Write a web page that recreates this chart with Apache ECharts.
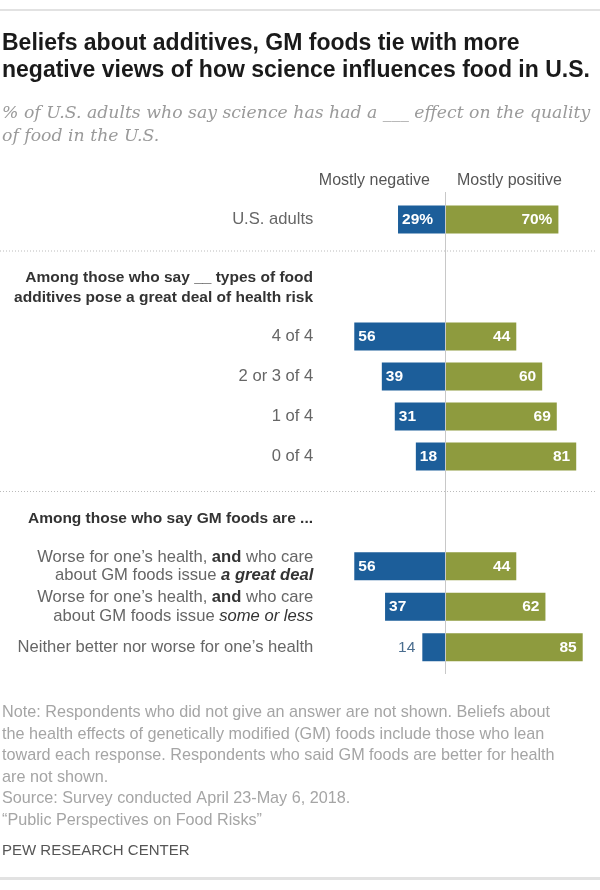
<!DOCTYPE html>
<html lang="en">
  <head>
    <meta charset="UTF-8" />
    <title>Science and food quality</title>
    <style>
      html, body { margin: 0; padding: 0; background: #fff; }
      #main { width: 600px; height: 890px; }
    </style>
  </head>
  <body>
    <div id="main"></div>
    <script src="https://cdn.jsdelivr.net/npm/echarts@6/dist/echarts.min.js"></script>
    <script>
      const myChart = echarts.init(document.getElementById('main'))

      // rows and values
      var usCats = ['U.S. adults']
      var usNeg = [29]
      var usPos = [70]

      var addCats = ['4 of 4', '2 or 3 of 4', '1 of 4', '0 of 4']
      var addNeg = [56, 39, 31, 18]
      var addPos = [44, 60, 69, 81]

      var gmCats = [
        '{n|Worse for one\u2019s health, }{b|and}{n| who care}\n{n|about GM foods issue }{bi|a great deal}',
        '{n|Worse for one\u2019s health, }{b|and}{n| who care}\n{n|about GM foods issue }{i|some or less}',
        '{n|Neither better nor worse for one\u2019s health}'
      ]
      var gmNeg = [56, 37, 14]
      var gmPos = [44, 62, 85]

      var groupHeads = [
        'Among those who say __ types of food\nadditives pose a great deal of health risk',
        'Among those who say GM foods are ...'
      ]
      var colHeads = ['Mostly negative', 'Mostly positive']

      var BLUE = '#1c5e9a'
      var GREEN = '#8e9b3e'
      var FONT = '"Liberation Sans", Arial, sans-serif'
      var LBL = 16.6

      var X_MIN = -60, X_MAX = 95
      var gridLeft = 347.8, gridRight = 1.1

      var grids = [
        { top: 199.5, height: 40 },
        { top: 316.5, height: 160 },
        { top: 546, height: 121.5 },
        { top: 192, height: 482 } // background, zero line
      ]

      function xAx(i) {
        return {
          type: 'value', gridIndex: i, min: X_MIN, max: X_MAX,
          show: false
        }
      }
      function yAx(i, cats) {
        return {
          type: 'category', gridIndex: i, data: cats, inverse: true,
          axisLine: { show: false }, axisTick: { show: false },
          axisLabel: {
            margin: 34.5, color: '#666', fontFamily: FONT, fontSize: LBL,
            align: 'right',
            rich: {
              n: { color: '#666', fontFamily: FONT, fontSize: LBL, lineHeight: 18.5 },
              b: { color: '#333', fontFamily: FONT, fontSize: LBL, fontWeight: 'bold', lineHeight: 18.5 },
              bi: { color: '#333', fontFamily: FONT, fontSize: LBL, fontWeight: 'bold', fontStyle: 'italic', lineHeight: 18.5 },
              i: { color: '#333', fontFamily: FONT, fontSize: LBL, fontStyle: 'italic', lineHeight: 18.5 }
            }
          }
        }
      }

      function negSeries(i, vals, pct) {
        return {
          type: 'bar', xAxisIndex: i, yAxisIndex: i, barWidth: 28, barGap: '-100%',
          silent: true,
          data: vals.map(function (v) {
            var item = { value: -v }
            if (v < 15) {
              item.label = {
                position: 'left', distance: 7, color: '#4a6d8f', fontWeight: 'normal'
              }
            }
            return item
          }),
          itemStyle: { color: BLUE },
          label: {
            show: true, position: 'insideLeft', distance: 4,
            color: '#fff', fontWeight: 'bold', fontSize: 15.5, fontFamily: FONT,
            formatter: function (p) { return Math.abs(p.value) + (pct ? '%' : '') }
          }
        }
      }
      function posSeries(i, vals, pct) {
        return {
          type: 'bar', xAxisIndex: i, yAxisIndex: i, barWidth: 28, barGap: '-100%',
          silent: true,
          data: vals,
          itemStyle: { color: GREEN },
          label: {
            show: true, position: 'insideRight', distance: 6,
            color: '#fff', fontWeight: 'bold', fontSize: 15.5, fontFamily: FONT,
            formatter: function (p) { return p.value + (pct ? '%' : '') }
          }
        }
      }

      option = {
        backgroundColor: '#fff',
        animation: false,
        title: [
          {
            text: 'Beliefs about additives, GM foods tie with more\nnegative views of how science influences food in U.S.',
            left: 2, top: 30, padding: 0,
            textStyle: { fontFamily: FONT, fontSize: 23, fontWeight: 'bold', color: '#1a1a1a', lineHeight: 27 }
          },
          {
            text: '% of U.S. adults who say science has had a ___ effect on the quality\nof food in the U.S.',
            left: 2, top: 102, padding: 0,
            textStyle: { fontFamily: '"DejaVu Serif", Georgia, serif', fontSize: 17.3, fontStyle: 'italic', fontWeight: 'normal', color: '#9a9a9a', lineHeight: 23 }
          },
          {
            text: 'Note: Respondents who did not give an answer are not shown. Beliefs about\nthe health effects of genetically modified (GM) foods include those who lean\ntoward each response. Respondents who said GM foods are better for health\nare not shown.\nSource: Survey conducted April 23-May 6, 2018.\n\u201cPublic Perspectives on Food Risks\u201d',
            left: 2, top: 702, padding: 0,
            textStyle: { fontFamily: FONT, fontSize: 16.2, fontWeight: 'normal', color: '#a5a5a5', lineHeight: 21.5 }
          },
          {
            text: 'PEW RESEARCH CENTER',
            left: 2, top: 841, padding: 0,
            textStyle: { fontFamily: FONT, fontSize: 15, fontWeight: 'normal', color: '#555', lineHeight: 20 }
          }
        ],
        grid: grids.map(function (g) {
          return { left: gridLeft, right: gridRight, top: g.top, height: g.height }
        }),
        xAxis: [xAx(0), xAx(1), xAx(2), xAx(3)],
        yAxis: [
          yAx(0, usCats), yAx(1, addCats), yAx(2, gmCats),
          { type: 'value', gridIndex: 3, show: false, min: 0, max: 1 }
        ],
        series: [
          negSeries(0, usNeg, true), posSeries(0, usPos, true),
          negSeries(1, addNeg, false), posSeries(1, addPos, false),
          negSeries(2, gmNeg, false), posSeries(2, gmPos, false),
          {
            type: 'line', xAxisIndex: 3, yAxisIndex: 3, data: [], silent: true,
            markLine: {
              symbol: 'none', silent: true, label: { show: false },
              lineStyle: { color: '#c8c8c8', type: 'solid', width: 1 },
              data: [{ xAxis: 0 }]
            }
          }
        ],
        graphic: [
          // top and bottom rules
          { type: 'rect', left: 0, top: 9, shape: { width: 600, height: 2 }, style: { fill: '#e2e2e2' } },
          { type: 'rect', left: 0, top: 877, shape: { width: 600, height: 3 }, style: { fill: '#e2e2e2' } },
          // dotted separators
          { type: 'line', shape: { x1: 0, y1: 251, x2: 596, y2: 251 }, style: { stroke: '#bbb', lineWidth: 1, lineDash: [1, 2] } },
          { type: 'line', shape: { x1: 0, y1: 491.5, x2: 596, y2: 491.5 }, style: { stroke: '#bbb', lineWidth: 1, lineDash: [1, 2] } },
          // column heads
          { type: 'text', style: { text: colHeads[0], x: 430, y: 181, align: 'right', verticalAlign: 'middle', fill: '#555', font: '16px ' + FONT } },
          { type: 'text', style: { text: colHeads[1], x: 457, y: 181, align: 'left', verticalAlign: 'middle', fill: '#555', font: '16px ' + FONT } },
          // group heads
          { type: 'text', style: { text: groupHeads[0], x: 313, y: 288, align: 'right', verticalAlign: 'middle', fill: '#333', font: 'bold 15.5px ' + FONT, lineHeight: 20 } },
          { type: 'text', style: { text: groupHeads[1], x: 313, y: 519, align: 'right', verticalAlign: 'middle', fill: '#333', font: 'bold 15.5px ' + FONT, lineHeight: 20 } }
        ]
      }

      myChart.setOption(option)
    </script>
  </body>
</html>
